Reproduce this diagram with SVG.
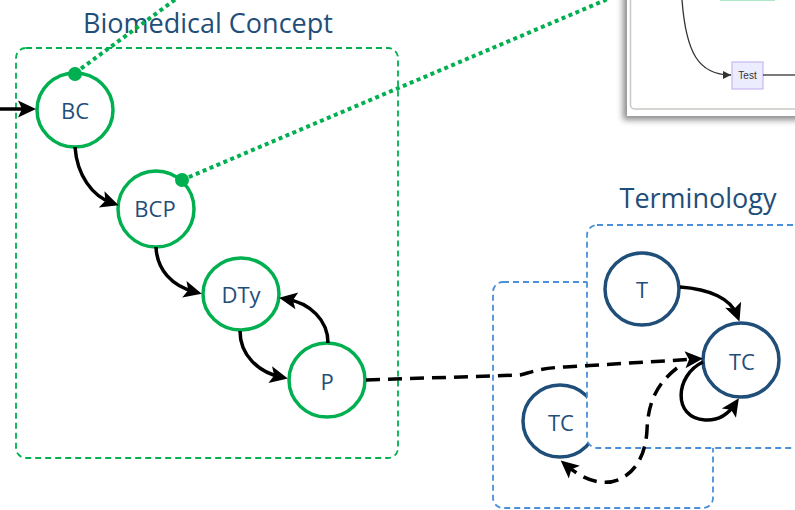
<svg xmlns="http://www.w3.org/2000/svg" width="795" height="510" viewBox="0 0 795 510">
<style>
.title{font-family:"Open Sans","Liberation Sans",sans-serif;font-size:27px;fill:#1F4E79;text-anchor:middle}
.lbl{font-family:"Open Sans","Liberation Sans",sans-serif;font-size:22px;fill:#1F4E79;text-anchor:middle}
.gnode{fill:#fff;stroke:#00B050;stroke-width:3.5}
.bnode{fill:#fff;stroke:#1F4E79;stroke-width:3.5}
.gbox{fill:none;stroke:#00B050;stroke-width:1.8;stroke-dasharray:6 4}
.bbox{stroke:#4A90D9;stroke-width:1.8;stroke-dasharray:6 4}
.edge{fill:none;stroke:#000;stroke-width:3.5;marker-end:url(#ah)}
.dash{stroke-dasharray:14 8}
.dot{fill:none;stroke:#00B050;stroke-width:4;stroke-dasharray:4 3.5}
</style>
<defs>
<marker id="ah" markerUnits="userSpaceOnUse" markerWidth="20" markerHeight="18" refX="11" refY="8.5" orient="auto" overflow="visible">
<path d="M0,0 L18,8.5 L0,17 L4,8.5 z" fill="#000"/>
</marker>
<marker id="ahs" markerUnits="userSpaceOnUse" markerWidth="10" markerHeight="10" refX="8" refY="4" orient="auto">
<path d="M0,0 L8,4 L0,8 z" fill="#333"/>
</marker>
<filter id="sh" x="-20%" y="-20%" width="140%" height="140%">
<feDropShadow dx="-4" dy="4" stdDeviation="3" flood-color="#000" flood-opacity="0.45"/>
</filter>
</defs>

<!-- inset screenshot -->
<g id="inset">
<rect x="627" y="-10" width="180" height="126" fill="#fff" filter="url(#sh)"/>
<rect x="630.5" y="-10" width="180" height="119" rx="4" fill="#fff" stroke="#c8c8c4" stroke-width="1.5"/>
<rect x="720" y="-6" width="55" height="7" fill="#aee8c6"/>
<path d="M682,0 C686,52 698,75 731,75" fill="none" stroke="#333" stroke-width="1.3" marker-end="url(#ahs)"/>
<rect x="732" y="62" width="31" height="27" fill="#ECECFF" stroke="#C9B8F0" stroke-width="1.2"/>
<text x="747.5" y="79" font-family="'Liberation Sans',sans-serif" font-size="10" fill="#333" text-anchor="middle">Test</text>
<line x1="763" y1="75" x2="795" y2="75" stroke="#333" stroke-width="1.3"/>
</g>

<!-- Biomedical Concept group -->
<g id="bc-group">
<text class="title" x="208" y="33">Biomedical Concept</text>
<rect class="gbox" x="16" y="48" width="382" height="410" rx="10"/>
</g>

<!-- Terminology groups -->
<g id="term-group">
<text class="title" x="698" y="208">Terminology</text>
<rect class="bbox" x="493" y="282" width="220" height="226" rx="10" fill="none"/>
</g>
<g id="node-TC2">
<ellipse class="bnode" cx="560" cy="421" rx="37" ry="36"/>
<text class="lbl" x="561" y="431">TC</text>
</g>
<rect class="bbox" x="587" y="225" width="230" height="223" rx="10" fill="#fff"/>

<!-- dotted links -->
<g id="links">
<line class="dot" x1="75" y1="73" x2="176" y2="-1"/>
<line class="dot" x1="182" y1="180" x2="608" y2="-1"/>
</g>

<g id="node-BC">
<ellipse class="gnode" cx="75" cy="110" rx="38" ry="37"/>
<text class="lbl" x="75" y="119">BC</text>
</g>
<g id="node-BCP">
<ellipse class="gnode" cx="156" cy="209" rx="38" ry="38"/>
<text class="lbl" x="155" y="217">BCP</text>
</g>
<g id="node-DTy">
<ellipse class="gnode" cx="241" cy="294" rx="38" ry="36"/>
<text class="lbl" x="241" y="303">DTy</text>
</g>
<g id="node-P">
<ellipse class="gnode" cx="327" cy="380" rx="38" ry="37"/>
<text class="lbl" x="327" y="390">P</text>
</g>
<g id="node-T">
<ellipse class="bnode" cx="642" cy="289" rx="37" ry="36"/>
<text class="lbl" x="642" y="298">T</text>
</g>
<g id="node-TC1">
<ellipse class="bnode" cx="741" cy="360" rx="38" ry="37"/>
<text class="lbl" x="742" y="370">TC</text>
</g>

<g id="dots">
<circle cx="75" cy="74" r="7" fill="#00B050"/>
<circle cx="182" cy="180" r="7" fill="#00B050"/>
</g>

<!-- connectors -->
<g id="connectors">
<path class="edge" d="M0,109 L29,109"/>
<path class="edge" d="M75,147 C77,175 92,196 112,203"/>
<path class="edge" d="M156,247 C157,270 172,286 195,292"/>
<path class="edge" d="M240,331 C240,355 258,372 281,377"/>
<path class="edge" d="M328,343 C328,320 310,303 286,299"/>
<path class="edge dash" d="M366,380 L520,375 C532,372 540,368 565,367 L696,359"/>
<path class="edge" d="M680,287 C710,289 731,299 737,315"/>
<path class="edge" d="M703,362 C675,375 672,418 705,420 C720,421 729,413 735,404"/>
<path class="edge dash" d="M677,368 C655,385 648,405 647,430 C645,470 620,485 600,482 C585,480 573,471 566,465"/>
</g>
</svg>
